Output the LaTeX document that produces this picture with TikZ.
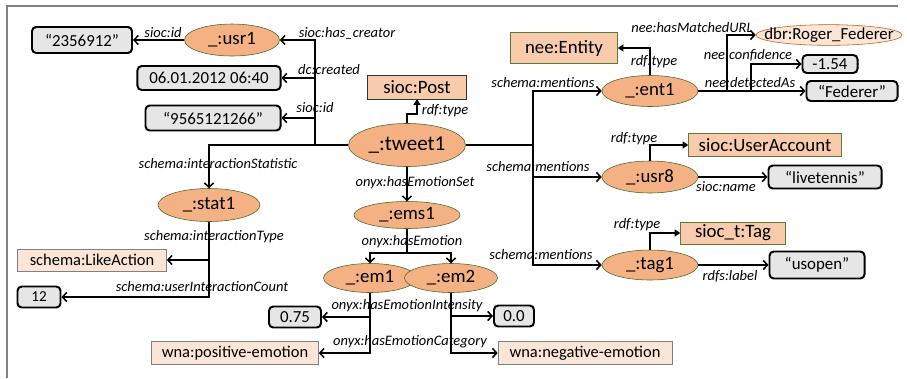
\documentclass[tikz,border=0pt]{standalone}
\usepackage{xcolor}
\usepackage{fontspec}
\setmainfont{Carlito}
\usetikzlibrary{shapes.geometric, arrows.meta}

\definecolor{blankfill}{HTML}{F4B183}
\definecolor{blankline}{HTML}{4F6228}
\definecolor{classfill}{HTML}{F8CBAD}
\definecolor{classline}{HTML}{5E7A3A}
\definecolor{palefill}{HTML}{FBE5D6}
\definecolor{litfill}{HTML}{E6E6E6}
\definecolor{uriline}{HTML}{C55A11}

\begin{document}
\begin{tikzpicture}[
    x=0.025cm, y=-0.025cm,
    blank/.style={ellipse, draw=blankline, fill=blankfill, inner sep=0pt, font=\fontsize{13.4}{16}\selectfont},
    uri/.style={ellipse, draw=uriline, fill=palefill, inner xsep=-9.5pt, inner ysep=0pt, font=\fontsize{12}{14}\selectfont},
    class/.style={rectangle, draw=classline, fill=classfill, inner sep=0pt, font=\fontsize{13.4}{16}\selectfont},
    pale/.style={rectangle, draw=gray, fill=palefill, inner sep=0pt, font=\fontsize{11.7}{14}\selectfont},
    literal/.style={rectangle, rounded corners=3pt, draw=black, line width=1.4pt, fill=litfill, inner sep=0pt, font=\fontsize{12}{14}\selectfont},
    lbl/.style={inner sep=0pt, font=\itshape\fontsize{10.3}{12}\selectfont},
    arr/.style={-{Straight Barb[length=3pt, width=6.5pt]}, line width=1.1pt},
    typearr/.style={-{Triangle[length=4pt, width=5pt]}, line width=1.6pt}
]
    \useasboundingbox (0,0) rectangle (907,378);
    % Frame
    \draw[gray, line width=1pt] (7,378) -- (7,6) -- (898,6);

    % Tweet and its direct neighbours
    \node[blank, minimum width=2.925cm, minimum height=1.075cm, font=\fontsize{15}{18}\selectfont] (tweet1) at (407,145) {\_:tweet1};
    \node[class, draw=black!80, minimum width=2.475cm, minimum height=0.6cm] (post) at (417,87) {sioc:Post};
    \node[blank, minimum width=2.375cm, minimum height=0.8cm] (usr1) at (232,40) {\_:usr1};
    \node[literal, minimum width=2.5cm, minimum height=0.65cm] (id1) at (82,40) {“2356912”};
    \node[literal, minimum width=3.575cm, minimum height=0.6cm] (date) at (209,78) {06.01.2012 06:40};
    \node[literal, minimum width=3.375cm, minimum height=0.625cm] (id2) at (213,118) {“9565121266”};

    % Interaction statistic
    \node[blank, minimum width=2.55cm, minimum height=0.825cm] (stat1) at (209,205) {\_:stat1};
    \node[pale, minimum width=3.725cm, minimum height=0.55cm] (like) at (92,260) {schema:LikeAction};
    \node[literal, minimum width=1.075cm, minimum height=0.525cm, font=\fontsize{10.8}{13}\selectfont] (cnt) at (39,297) {12};

    % Emotions
    \node[blank, minimum width=2.65cm, minimum height=0.675cm] (ems1) at (407,215) {\_:ems1};
    \node[blank, minimum width=2.325cm, minimum height=0.725cm] (em1) at (370,278) {\_:em1};
    \node[blank, minimum width=2.325cm, minimum height=0.725cm] (em2) at (451,278) {\_:em2};
    \node[literal, minimum width=1.3cm, minimum height=0.525cm] (int1) at (295,317) {0.75};
    \node[literal, minimum width=1cm, minimum height=0.525cm] (int2) at (514,316) {0.0};
    \node[pale, minimum width=4.175cm, minimum height=0.575cm] (pos) at (235,353) {wna:positive-emotion};
    \node[pale, minimum width=4.35cm, minimum height=0.575cm] (neg) at (585,353) {wna:negative-emotion};

    % Mentions
    \node[blank, minimum width=2.4cm, minimum height=0.775cm] (ent1) at (650,91) {\_:ent1};
    \node[class, minimum width=2.675cm, minimum height=0.775cm] (entity) at (564,48) {nee:Entity};
    \node[uri, minimum width=3.65cm, minimum height=0.5cm] (roger) at (829,35) {dbr:Roger\_Federer};
    \node[literal, minimum width=1.375cm, minimum height=0.45cm] (conf) at (830,64) {-1.54};
    \node[literal, minimum width=2.275cm, minimum height=0.5cm] (fed) at (852,91) {“Federer”};
    \node[blank, minimum width=2.4cm, minimum height=0.8cm] (usr8) at (650,177) {\_:usr8};
    \node[class, minimum width=3.825cm, minimum height=0.575cm] (acct) at (765,145) {sioc:UserAccount};
    \node[literal, minimum width=2.825cm, minimum height=0.575cm] (live) at (825,177) {“livetennis”};
    \node[blank, minimum width=2.4cm, minimum height=0.75cm] (tag1) at (650,265) {\_:tag1};
    \node[class, minimum width=2.625cm, minimum height=0.55cm] (tag) at (733,233) {sioc\_t:Tag};
    \node[literal, minimum width=2.375cm, minimum height=0.675cm] (usopen) at (817,265) {“usopen”};

    % Hubs
    \coordinate (hubL) at (315,145);
    \coordinate (hubR) at (533,145);
    \coordinate (hubM) at (407,253);
    \coordinate (hubE1) at (727,91);
    \coordinate (hubE2) at (751,91);

    % Edges of the tweet
    \draw[arr] (tweet1.west) -- (hubL) |- (usr1.east);
    \draw[arr] (hubL) |- (date.east);
    \draw[arr] (hubL) |- (id2.east);
    \draw[arr] (hubL) -| (stat1.north);
    \draw[arr] (usr1.west) -- (id1.east);
    \draw[typearr] (tweet1.north) -- ++(0,-9) -| (post.south);
    \draw[arr] (tweet1.east) -- (hubR) |- (ent1.west);
    \draw[arr] (hubR) |- (usr8.west);
    \draw[arr] (hubR) |- (tag1.west);
    \draw[arr] (tweet1.south) -- (ems1.north);

    % Edges of the statistic
    \draw[arr] (stat1.south) |- (like.east);
    \draw[arr] (stat1.south) |- (cnt.east);

    % Edges of the emotions
    \draw[arr] (ems1.south) -- (hubM) -| (em1.north);
    \draw[arr] (hubM) -| (em2.north);
    \draw[arr] (em1.south) |- (int1.east);
    \draw[arr] (em1.south) |- (pos.east);
    \draw[arr] (em2.south) |- (int2.west);
    \draw[arr] (em2.south) |- (neg.west);

    % Edges of the mentions
    \draw[typearr] (ent1.north) |- (entity.east);
    \draw[arr] (ent1.east) -- (fed.west);
    \draw[arr] (hubE1) |- (roger.west);
    \draw[arr] (hubE2) |- (conf.west);
    \draw[typearr] (usr8.north) |- (acct.west);
    \draw[arr] (usr8.east) -- (live.west);
    \draw[typearr] (tag1.north) |- (tag.west);
    \draw[arr] (tag1.east) -- (usopen.west);

    % Labels
    \node[lbl] (lid1) at (163,33) {sioc:id};
    \node[lbl] (lcreator) at (347,33) {sioc:has\_creator};
    \node[lbl] (lcreated) at (329,70) {dc:created};
    \node[lbl] (lid2) at (315,108) {sioc:id};
    \node[lbl] (lstat) at (218,164) {schema:interactionStatistic};
    \node[lbl] (ltype1) at (445,111) {rdf:type};
    \node[lbl] (lemset) at (415,183) {onyx:hasEmotionSet};
    \node[lbl] (lemo) at (412,242) {onyx:hasEmotion};
    \node[lbl] (litype) at (214,237) {schema:interactionType};
    \node[lbl] (lcount) at (202,287) {schema:userInteractionCount};
    \node[lbl] (lint) at (407,306) {onyx:hasEmotionIntensity};
    \node[lbl] (lcat) at (410,342) {onyx:hasEmotionCategory};
    \node[lbl] (lm1) at (543,83) {schema:mentions};
    \node[lbl] (lm2) at (538,167) {schema:mentions};
    \node[lbl] (lm3) at (541,255) {schema:mentions};
    \node[lbl] (ltype2) at (654,62) {rdf:type};
    \node[lbl] (lmatch) at (692,28) {nee:hasMatchedURL};
    \node[lbl] (lconf) at (748,55) {nee:confidence};
    \node[lbl] (ldet) at (750,83) {nee:detectedAs};
    \node[lbl] (ltype3) at (634,139) {rdf:type};
    \node[lbl] (lname) at (726,187) {sioc:name};
    \node[lbl] (ltype4) at (637,225) {rdf:type};
    \node[lbl] (llabel) at (730,276) {rdfs:label};
\end{tikzpicture}
\end{document}
